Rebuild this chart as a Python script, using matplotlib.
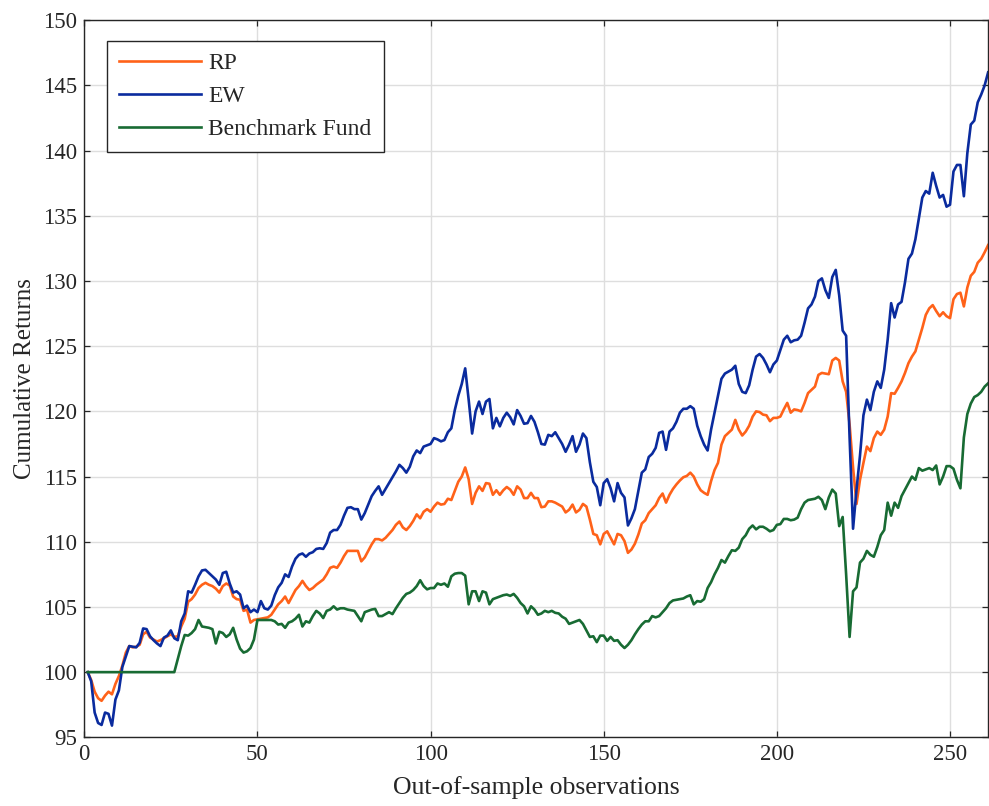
import matplotlib
matplotlib.use("Agg")
import matplotlib.pyplot as plt
import numpy as np

# Cumulative returns per out-of-sample observation (index 1..261)
rp = [
    100.0, 99.4, 98.5, 98.0, 97.8, 98.2, 98.5, 98.3, 99.1, 99.7,
    100.5, 101.5, 102.0, 101.9, 101.95, 102.1, 102.9, 103.1, 102.65, 102.5,
    102.35, 102.45, 102.6, 102.75, 102.9, 102.7, 102.75, 103.5, 104.1, 105.4,
    105.6, 105.95, 106.45, 106.7, 106.85, 106.7, 106.6, 106.4, 106.1, 106.6,
    106.8, 106.65, 105.8, 105.6, 105.55, 104.7, 104.8, 103.8, 104.0, 104.05,
    104.1, 104.15, 104.2, 104.4, 104.8, 105.2, 105.45, 105.8, 105.3, 105.8,
    106.3, 106.6, 107.0, 106.6, 106.3, 106.45, 106.7, 106.9, 107.1, 107.5,
    108.0, 108.1, 108.0, 108.4, 108.9, 109.3, 109.3, 109.3, 109.3, 108.5,
    108.8, 109.3, 109.8, 110.2, 110.2, 110.1, 110.3, 110.6, 110.9, 111.3,
    111.55, 111.1, 110.9, 111.2, 111.6, 112.1, 111.8, 112.3, 112.5, 112.3,
    112.7, 113.0, 112.85, 112.9, 113.3, 113.2, 113.9, 114.6, 115.0, 115.7,
    114.8, 112.9, 113.75, 114.25, 113.9, 114.5, 114.45, 113.6, 113.95, 113.6,
    113.95, 114.2, 114.0, 113.6, 114.25, 114.0, 113.35, 113.35, 113.75, 113.35,
    113.35, 112.65, 112.7, 113.1, 113.1, 113.0, 112.85, 112.7, 112.25, 112.45,
    112.85, 112.25, 112.45, 112.9, 112.7, 111.7, 110.6, 110.5, 109.8, 110.6,
    110.8, 110.3, 109.8, 110.6, 110.5, 110.05, 109.15, 109.4, 109.85, 110.55,
    111.4, 111.65, 112.2, 112.5, 112.8, 113.35, 113.7, 113.0, 113.6, 114.05,
    114.4, 114.7, 114.95, 115.05, 115.3, 115.0, 114.4, 113.95, 113.75, 113.6,
    114.65, 115.5, 116.05, 117.45, 118.1, 118.35, 118.6, 119.35, 118.6, 118.15,
    118.45, 118.9, 119.6, 120.0, 119.95, 119.75, 119.7, 119.25, 119.5, 119.5,
    119.6, 120.15, 120.65, 119.9, 120.15, 120.1, 120.0, 120.65, 121.4, 121.65,
    121.9, 122.8, 122.95, 122.9, 122.85, 123.9, 124.1, 123.9, 122.3, 121.5,
    119.0, 115.7, 112.9, 114.75, 116.05, 117.3, 116.95, 117.95, 118.45, 118.2,
    118.6, 119.6, 121.4, 121.35, 121.8, 122.3, 122.95, 123.7, 124.2, 124.6,
    125.5, 126.4, 127.4, 127.9, 128.15, 127.7, 127.3, 127.6, 127.3, 127.15,
    128.6, 129.0, 129.1, 128.05, 129.5, 130.4, 130.7, 131.4, 131.7, 132.2, 132.75,
]

ew = [
    100.0, 99.3, 96.9, 96.1, 95.95, 96.9, 96.8, 95.9, 97.9, 98.6,
    100.4, 101.2, 102.0, 101.95, 101.9, 102.25, 103.35, 103.3, 102.75, 102.45,
    102.2, 102.0, 102.65, 102.8, 103.2, 102.6, 102.45, 103.9, 104.5, 106.2,
    106.1, 106.7, 107.35, 107.8, 107.85, 107.6, 107.35, 107.1, 106.7, 107.6,
    107.7, 106.8, 106.1, 106.2, 105.95, 104.9, 105.1, 104.6, 104.8, 104.6,
    105.45, 104.9, 104.8, 105.1, 105.9, 106.5, 106.85, 107.5, 107.3, 108.1,
    108.7, 109.0, 109.1, 108.85, 109.1, 109.2, 109.45, 109.5, 109.45, 109.9,
    110.7, 110.9, 110.9, 111.3, 112.0, 112.6, 112.65, 112.5, 112.5, 111.7,
    112.2, 112.85, 113.5, 113.9, 114.25, 113.6, 114.05, 114.5, 114.95, 115.4,
    115.9, 115.65, 115.3, 115.75, 116.55, 117.0, 116.8, 117.3, 117.4, 117.5,
    117.95, 117.85, 117.7, 117.8, 118.4, 118.7, 120.1, 121.2, 122.1, 123.3,
    120.9, 118.3, 120.0, 120.75, 119.8, 120.75, 120.95, 118.7, 119.5, 118.85,
    119.5, 119.9, 119.55, 119.0, 120.1, 119.65, 119.05, 119.1, 119.65, 119.2,
    118.4, 117.5, 117.45, 118.2, 118.1, 118.4, 117.95, 117.5, 116.9, 117.45,
    118.1, 116.9, 117.45, 118.3, 117.95, 116.1, 114.6, 114.2, 112.8, 114.5,
    114.8, 114.1, 113.1, 114.5, 113.75, 113.4, 111.25, 111.8, 112.5, 113.9,
    115.3, 115.55, 116.5, 116.75, 117.2, 118.35, 118.45, 117.05, 118.45, 118.7,
    119.2, 119.9, 120.2, 120.2, 120.4, 120.2, 118.9, 118.1, 117.45, 117.0,
    118.6, 119.9, 121.2, 122.5, 122.9, 123.05, 123.2, 123.5, 122.1, 121.5,
    121.4, 122.0, 123.2, 124.2, 124.4, 124.1, 123.6, 123.0, 123.6, 123.9,
    124.7, 125.5, 125.8, 125.3, 125.45, 125.5, 125.8, 126.8, 127.9, 128.2,
    128.8, 130.0, 130.2, 129.3, 128.7, 130.3, 130.85, 128.9, 126.2, 125.8,
    118.0, 111.0, 114.0, 116.6, 119.7, 120.9, 120.1, 121.5, 122.3, 121.8,
    123.2, 125.5, 128.3, 127.2, 128.2, 128.4, 129.9, 131.7, 132.1, 133.2,
    134.8, 136.4, 136.9, 136.7, 138.3, 137.3, 136.4, 136.6, 135.7, 135.85,
    138.4, 138.9, 138.9, 136.5, 139.8, 142.0, 142.3, 143.7, 144.3, 145.0, 146.0,
]

benchmark = [
    100.0, 100.0, 100.0, 100.0, 100.0, 100.0, 100.0, 100.0, 100.0, 100.0,
    100.0, 100.0, 100.0, 100.0, 100.0, 100.0, 100.0, 100.0, 100.0, 100.0,
    100.0, 100.0, 100.0, 100.0, 100.0, 100.0, 101.0, 102.0, 102.85, 102.8,
    103.0, 103.3, 104.0, 103.5, 103.45, 103.4, 103.3, 102.2, 103.1, 103.0,
    102.7, 102.9, 103.4, 102.5, 101.8, 101.5, 101.6, 101.85, 102.5, 104.0,
    104.0, 104.0, 104.0, 104.0, 103.9, 103.65, 103.7, 103.4, 103.8, 103.9,
    104.1, 104.4, 103.5, 103.9, 103.8, 104.3, 104.7, 104.5, 104.15, 104.7,
    104.8, 105.05, 104.8, 104.9, 104.9, 104.8, 104.75, 104.7, 104.3, 103.9,
    104.6, 104.7, 104.8, 104.85, 104.3, 104.3, 104.45, 104.6, 104.45, 104.9,
    105.3, 105.7, 106.0, 106.1, 106.3, 106.6, 107.05, 106.6, 106.35, 106.45,
    106.45, 106.8, 106.7, 106.8, 106.55, 107.35, 107.55, 107.6, 107.6, 107.4,
    105.2, 106.2, 106.2, 105.45, 106.2, 106.1, 105.2, 105.6, 105.7, 105.8,
    105.9, 105.95, 105.85, 106.0, 105.7, 105.3, 105.05, 104.5, 105.05, 104.8,
    104.4, 104.5, 104.7, 104.6, 104.7, 104.55, 104.5, 104.25, 104.1, 103.7,
    103.8, 103.9, 104.0, 103.7, 103.2, 102.7, 102.75, 102.3, 102.8, 102.8,
    102.4, 102.7, 102.4, 102.45, 102.1, 101.85, 102.1, 102.45, 102.9, 103.3,
    103.65, 103.9, 103.9, 104.3, 104.2, 104.3, 104.6, 104.9, 105.3, 105.5,
    105.55, 105.6, 105.65, 105.8, 105.9, 105.2, 105.45, 105.4, 105.6, 106.45,
    106.9, 107.5, 108.0, 108.6, 108.4, 108.9, 109.35, 109.3, 109.55, 110.2,
    110.5, 111.0, 111.25, 110.95, 111.15, 111.15, 111.0, 110.8, 110.9, 111.3,
    111.35, 111.75, 111.75, 111.65, 111.7, 111.85, 112.5, 113.0, 113.2, 113.25,
    113.3, 113.45, 113.2, 112.5, 113.4, 114.0, 113.7, 111.2, 111.9, 107.5,
    102.7, 106.2, 106.5, 108.4, 108.7, 109.3, 109.0, 108.85, 109.6, 110.5,
    110.9, 113.0, 112.0, 113.0, 112.6, 113.5, 114.0, 114.5, 115.0, 114.75,
    115.65, 115.45, 115.55, 115.65, 115.5, 115.85, 114.4, 115.0, 115.8, 115.8,
    115.6, 114.75, 114.1, 118.0, 119.8, 120.6, 121.1, 121.25, 121.5, 121.9, 122.15,
]

series_labels = ["RP", "EW", "Benchmark Fund"]
series_colors = ["#FF6219", "#0A2B9E", "#186B33"]
x_ticks = [0, 50, 100, 150, 200, 250]
y_ticks = [95, 100, 105, 110, 115, 120, 125, 130, 135, 140, 145, 150]

plt.rcParams["font.family"] = ["Liberation Serif", "DejaVu Serif"]

fig = plt.figure(figsize=(9.89, 8.06), dpi=100)
ax = fig.add_axes([0.0852, 0.0852, 0.9139, 0.8897])

obs = np.arange(1, len(ew) + 1)
for values, label, color in zip([rp, ew, benchmark], series_labels, series_colors):
    ax.plot(obs, values, color=color, linewidth=1.9, label=label,
            solid_joinstyle="round")

ax.set_xlim(0, len(ew))
ax.set_ylim(95, 150)
ax.set_xticks(x_ticks)
ax.set_yticks(y_ticks)

ax.grid(True, color="#dedede", linewidth=1.0)
ax.set_axisbelow(True)
for spine in ax.spines.values():
    spine.set_linewidth(1.0)
    spine.set_color("#262626")
ax.tick_params(direction="in", length=4.5, width=0.9, top=True, right=True,
               labelsize=16.5, colors="#262626", pad=5)

ax.set_xlabel("Out-of-sample observations", fontsize=18.5, color="#262626", labelpad=8)
ax.set_ylabel("Cumulative Returns", fontsize=18, color="#262626", labelpad=5)

leg = ax.legend(loc="upper left", bbox_to_anchor=(0.0251, 0.971),
                borderaxespad=0, fontsize=17, handlelength=3.5,
                handletextpad=0.3, labelspacing=0.48, borderpad=0.5,
                fancybox=False, framealpha=1, edgecolor="#262626")
leg.get_frame().set_linewidth(1.0)
for t in leg.get_texts():
    t.set_color("#262626")

fig.savefig("out.png", dpi=100)
